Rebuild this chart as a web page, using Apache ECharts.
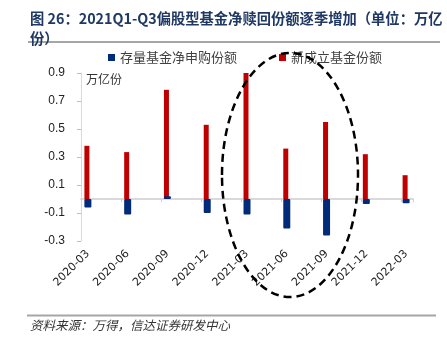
<!DOCTYPE html>
<html>
<head>
<meta charset="utf-8">
<script src="https://cdn.jsdelivr.net/npm/echarts@6/dist/echarts.min.js"></script>
<style>
html,body{margin:0;padding:0;background:#fff;}
#c{width:447px;height:343px;}
</style>
</head>
<body>
<div id="c"></div>
<script>
// ---- data ----
var categories = ['2020-03','2020-06','2020-09','2020-12','2021-03','2021-06','2021-09','2021-12','2022-03'];
var netSubscription = [-0.06, -0.11, 0.02, -0.10, -0.11, -0.21, -0.26, -0.035, -0.03];
var newFundShares = [0.38, 0.335, 0.78, 0.53, 0.90, 0.36, 0.55, 0.32, 0.17];
var seriesNames = ['存量基金净申购份额', '新成立基金份额'];
var yMin = -0.3, yMax = 0.9, yStep = 0.2;
var titleText = '图 26：2021Q1-Q3偏股型基金净赎回份额逐季增加（单位：万亿\n份）';
var unitText = '万亿份';
var sourceText = '资料来源：万得，信达证券研发中心';

var chart = echarts.init(document.getElementById('c'), null, {renderer: 'canvas'});
var cjk = '"Noto Sans CJK SC", "Noto Sans", sans-serif';

var option = {
  backgroundColor: '#fff',
  animation: false,
  title: {
    text: titleText,
    left: 25, top: 4,
    textStyle: {fontFamily: cjk, fontSize: 14.3, fontWeight: 'bold', color: '#1F3864', lineHeight: 20}
  },
  legend: {
    data: [seriesNames[0], seriesNames[1]],
    top: 46, left: 103,
    itemWidth: 7, itemHeight: 7, itemGap: 42,
    icon: 'rect',
    textStyle: {fontFamily: cjk, fontSize: 13, color: '#404040'}
  },
  grid: [
    {left: 68, right: 21, top: 73, bottom: 102, containLabel: false},
    {left: 81, right: 34, top: 73, bottom: 102, containLabel: false}
  ],
  xAxis: [
    {
      type: 'category', gridIndex: 0, data: categories,
      position: 'bottom',
      axisLine: {show: false, onZero: false},
      axisTick: {show: false},
      axisLabel: {rotate: 45, margin: 11, fontSize: 11, color: '#222', fontFamily: '"DejaVu Sans", sans-serif', interval: 0}
    },
    {
      type: 'value', gridIndex: 1, min: 0, max: 8.3, interval: 1,
      axisLine: {show: true, onZero: true, lineStyle: {color: '#d9d9d9', width: 2}},
      axisTick: {show: true, length: 3, inside: false, lineStyle: {color: '#d0d0d0'}},
      axisLabel: {show: false},
      splitLine: {show: false}
    }
  ],
  yAxis: [
    {
      type: 'value', gridIndex: 0, min: yMin, max: yMax, interval: yStep,
      offset: -13,
      name: unitText, nameLocation: 'end', nameGap: -6,
      nameTextStyle: {fontFamily: cjk, fontSize: 12, color: '#333', align: 'left', verticalAlign: 'middle', padding: [0, 0, 0, 5]},
      axisLine: {show: true, lineStyle: {color: '#d9d9d9', width: 1}},
      axisTick: {show: true, length: 4, lineStyle: {color: '#bfbfbf'}},
      axisLabel: {margin: 16, fontSize: 12, color: '#222', fontFamily: '"Liberation Sans", sans-serif',
        formatter: function (v) { return (Math.abs(v) < 1e-9 ? 0 : v).toFixed(1); }},
      splitLine: {show: false}
    },
    {
      type: 'value', gridIndex: 1, min: yMin, max: yMax, interval: yStep, show: false
    }
  ],
  series: [
    {
      name: seriesNames[1], type: 'bar', xAxisIndex: 0, yAxisIndex: 0,
      data: newFundShares, barWidth: 5, barGap: '-100%', z: 2,
      itemStyle: {color: '#C00000'}
    },
    {
      name: seriesNames[0], type: 'bar', xAxisIndex: 0, yAxisIndex: 0,
      data: netSubscription, barWidth: 7, barGap: '-100%', z: 3,
      itemStyle: {color: '#002A7A', borderRadius: 1}
    }
  ],
  graphic: [
    {type: 'line', shape: {x1: 28, y1: 42, x2: 440, y2: 42}, style: {stroke: '#a6a6a6', lineWidth: 2}},
    {type: 'line', shape: {x1: 27, y1: 315.5, x2: 436, y2: 315.5}, style: {stroke: '#a6a6a6', lineWidth: 2}},
    {type: 'text', left: 30, top: 319, style: {text: sourceText, font: 'italic 12.5px ' + cjk, fill: '#333'}},
    {type: 'ellipse', shape: {cx: 290, cy: 175, rx: 68, ry: 122},
      style: {fill: 'none', stroke: '#000', lineWidth: 2.5, lineDash: [8, 5]}, z: 100}
  ]
};
chart.setOption(option);
</script>
</body>
</html>
